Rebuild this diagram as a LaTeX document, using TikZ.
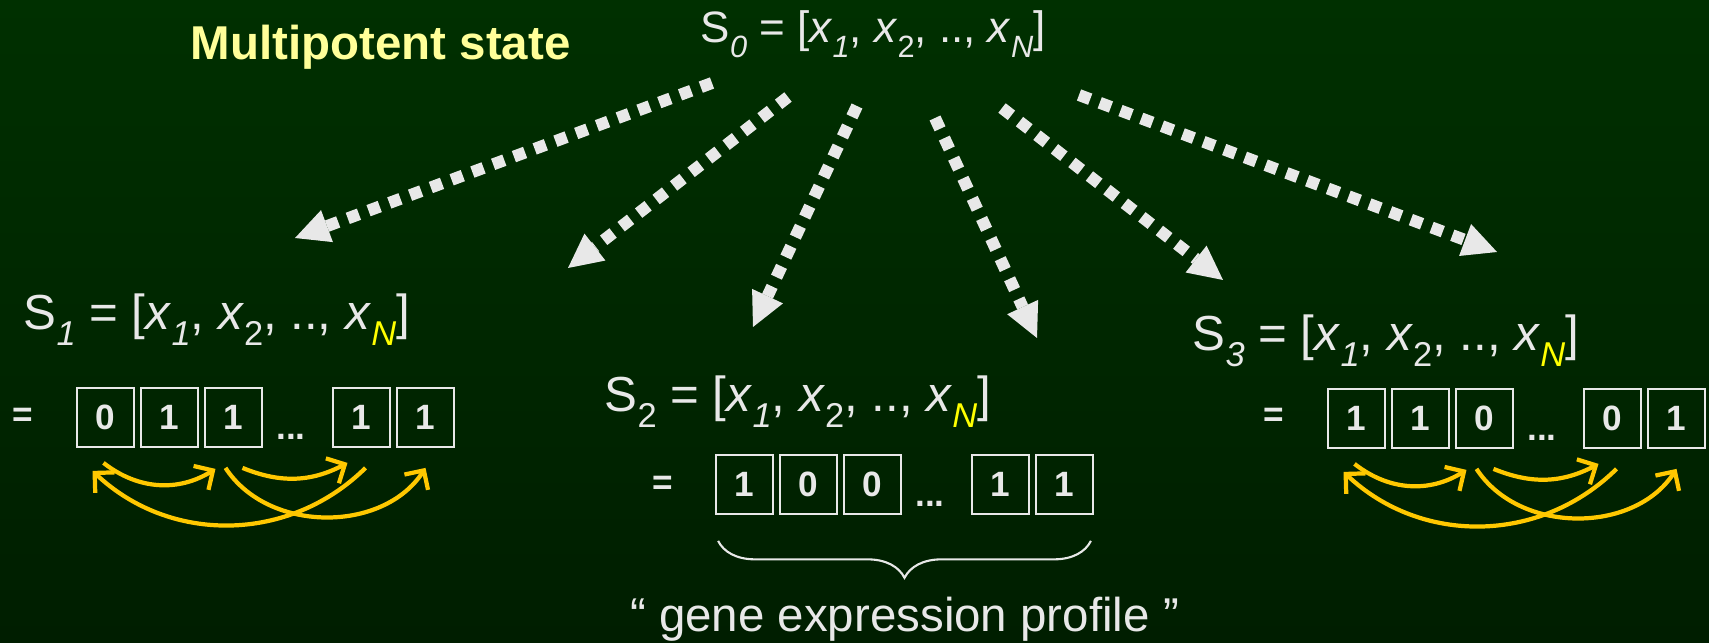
\documentclass[tikz,border=0pt]{standalone}
\usepackage{fontspec}
\setmainfont{Liberation Sans}
\usepackage{graphicx}
\usetikzlibrary{
  arrows.meta,
  decorations.pathreplacing,
  positioning,
  calc
}
\definecolor{bgtop}{RGB}{0,48,0}
\definecolor{bgbot}{RGB}{0,30,0}
\definecolor{chalk}{RGB}{232,232,232}
\definecolor{paleyellow}{RGB}{255,255,153}
\definecolor{nyellow}{RGB}{255,255,0}
\definecolor{linkgold}{RGB}{255,200,0}
\newcommand{\lowsub}[1]{\raisebox{-0.32em}{\scalebox{0.7}{#1}}}
\newcommand{\statevec}[2]{S\lowsub{#1} = [\textit{x}\lowsub{\textit{1}}, \textit{x}\lowsub{2}, .., \textit{x}\lowsub{#2}]}

\begin{document}
\begin{tikzpicture}[x=0.01cm,y=-0.01cm,
  statetext/.style={inner sep=0pt,anchor=base west,text=chalk,font=\fontsize{14}{17}\selectfont},
  bit/.style={draw=chalk,line width=0.5pt,minimum width=0.57cm,minimum height=0.59cm,
    inner sep=0pt,text=chalk,font=\fontsize{10}{12}\selectfont\bfseries},
  eqsign/.style={inner sep=0pt,text=chalk,font=\fontsize{10}{12}\selectfont\bfseries},
  gap/.style={inner sep=0pt,anchor=base,text=chalk,font=\fontsize{10}{12}\selectfont\bfseries},
  fate/.style={draw=chalk,line width=3.4pt,dash pattern=on 3.4pt off 2.9pt,
    -{Triangle[length=9.7pt,width=9.7pt,line width=0pt]}},
  link/.style={draw=linkgold,line width=1.2pt,-{Straight Barb[length=4pt,width=8pt]}}]
% background
\shade[top color=bgtop,bottom color=bgbot] (0,0) rectangle (1709,643);
\useasboundingbox (0,0) rectangle (1709,643);

% titles and state vectors
\node[inner sep=0pt,anchor=base west,text=paleyellow,font=\fontsize{13.5}{16}\selectfont\bfseries]
  (title) at (190,60) {Multipotent state};
\node[statetext,font=\fontsize{12.5}{15}\selectfont] (s0) at (700,43) {\statevec{\textit{0}}{\textit{N}}};
\node[statetext] (s1) at (23,330) {\statevec{\textit{1}}{\textcolor{nyellow}{\textit{N}}}};
\node[statetext] (s2) at (604,412) {\statevec{2}{\textcolor{nyellow}{\textit{N}}}};
\node[statetext] (s3) at (1192,351) {\statevec{\textit{3}}{\textcolor{nyellow}{\textit{N}}}};

% dotted fate arrows
\foreach \i/\ox/\oy/\ex/\ey in {1/712/83/295/238, 2/788/97/568/268, 3/857/106/753/327,
                                 4/935/118/1037/338, 5/1002/108/1223/280, 6/1079/95/1497/252}{
  \coordinate (o\i) at (\ox,\oy);
  \coordinate (e\i) at (\ex,\ey);
  \draw[fate] (o\i) -- (e\i);
}

% bit strings
\begin{scope}[shift={(77,388)}]
\node[eqsign] (a0) at (-54,29) {=};
\foreach \s/\d [count=\k] in {0/0,1/1,2/1,4/1,5/1}
  \node[bit] (a\k) at ({28.5+\s*64},29.5) {\d};
\node[gap] (adots) at (214,52) {...};
\end{scope}
\begin{scope}[shift={(716,455)}]
\node[eqsign] (b0) at (-53,30) {=};
\foreach \s/\d [count=\k] in {0/1,1/0,2/0,4/1,5/1}
  \node[bit] (b\k) at ({28.5+\s*64},29.5) {\d};
\node[gap] (bdots) at (214,52) {...};
\end{scope}
\begin{scope}[shift={(1328,389)}]
\node[eqsign] (c0) at (-54,28) {=};
\foreach \s/\d [count=\k] in {0/1,1/1,2/0,4/0,5/1}
  \node[bit] (c\k) at ({28.5+\s*64},29.5) {\d};
\node[gap] (cdots) at (214,52) {...};
\end{scope}

% interactions between genes
\foreach \r in {a,c}{
  \draw[link] ($(\r1.south)+(-2,15)$) to[bend right=35] ($(\r3.south)+(-18,21)$);
  \draw[link] ($(\r3.south)+(9,20)$) to[bend right=25] ($(\r4.south)+(-14,15)$);
  \draw[link] ($(\r4.south)+(4,20)$) to[bend left=44] ($(\r1.south)+(-13,23)$);
  \draw[link] ($(\r3.south)+(-8,20)$) to[bend right=57] ($(\r5.south)+(0,20)$);
}

% brace and caption
\draw[chalk,line width=0.6pt,decorate,decoration={brace,mirror,amplitude=10.5pt}]
  ($(b1.south west)+(3,26)$) -- coordinate (tip) ($(b5.south east)+(-3,26)$);
\node[inner sep=0pt,anchor=base,text=chalk,font=\fontsize{13.5}{16}\selectfont]
  (profile) at ($(tip)+(0,91)$) {“ gene expression profile ”};
\end{tikzpicture}
\end{document}
